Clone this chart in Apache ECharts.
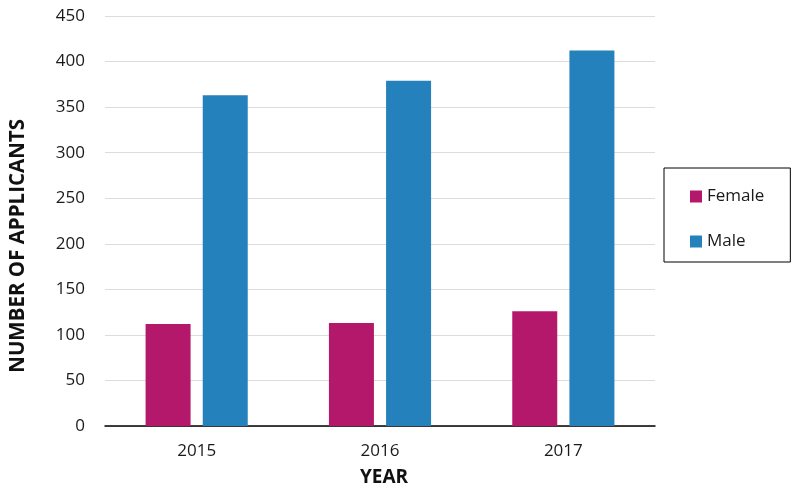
<!DOCTYPE html>
<html>
<head>
<meta charset="utf-8">
<script src="https://cdn.jsdelivr.net/npm/echarts@6/dist/echarts.min.js"></script>
<style>html,body{margin:0;padding:0;background:#fff;}#c{width:800px;height:495px;}</style>
</head>
<body>
<div id="c"></div>
<script>
const categories = ['2015', '2016', '2017'];
const femaleValues = [112, 113, 126];
const maleValues = [363, 379, 412];
const seriesNames = ['Female', 'Male'];
const yTitle = 'NUMBER OF APPLICANTS';
const xTitle = 'YEAR';

const chart = echarts.init(document.getElementById('c'));
const font = '"Open Sans", "Liberation Sans", sans-serif';
chart.setOption({
  animation: false,
  backgroundColor: '#fff',
  grid: { left: 105, right: 145, top: 16, bottom: 69 },
  legend: {
    orient: 'vertical',
    left: 664, top: 168,
    padding: [20, 26, 12, 26],
    itemGap: 28,
    itemWidth: 12, itemHeight: 12,
    icon: 'rect',
    borderColor: '#000', borderWidth: 1,
    textStyle: { fontFamily: font, fontSize: 17, color: '#1a1a1a' },
    data: seriesNames
  },
  graphic: [
    {
      type: 'text',
      left: 8,
      top: 119,
      style: { text: yTitle, fontFamily: font, fontSize: 20.5, fontWeight: 'bold', fill: '#111' },
      rotation: Math.PI / 2,
      originX: 0, originY: 0
    }
  ],
  xAxis: {
    type: 'category',
    data: categories,
    name: xTitle,
    nameLocation: 'middle',
    nameGap: 42,
    nameTextStyle: { fontFamily: font, fontSize: 19, fontWeight: 'bold', color: '#111', padding: [0, 0, 0, 8] },
    axisLine: { lineStyle: { color: '#000', width: 1.5 } },
    axisTick: { show: false },
    axisLabel: { fontFamily: font, fontSize: 17, color: '#1a1a1a', margin: 17 }
  },
  yAxis: {
    type: 'value',
    min: 0, max: 450, interval: 50,
    axisLine: { show: false },
    axisTick: { show: false },
    axisLabel: { fontFamily: font, fontSize: 17, color: '#1a1a1a', margin: 20 },
    splitLine: { lineStyle: { color: '#dcdcdc', width: 1 } }
  },
  series: [
    { name: seriesNames[0], type: 'bar', data: femaleValues, barWidth: 45, barGap: '27%', itemStyle: { color: '#b4186b' } },
    { name: seriesNames[1], type: 'bar', data: maleValues, barWidth: 45, barGap: '27%', itemStyle: { color: '#2581bb' } }
  ]
});
</script>
</body>
</html>
